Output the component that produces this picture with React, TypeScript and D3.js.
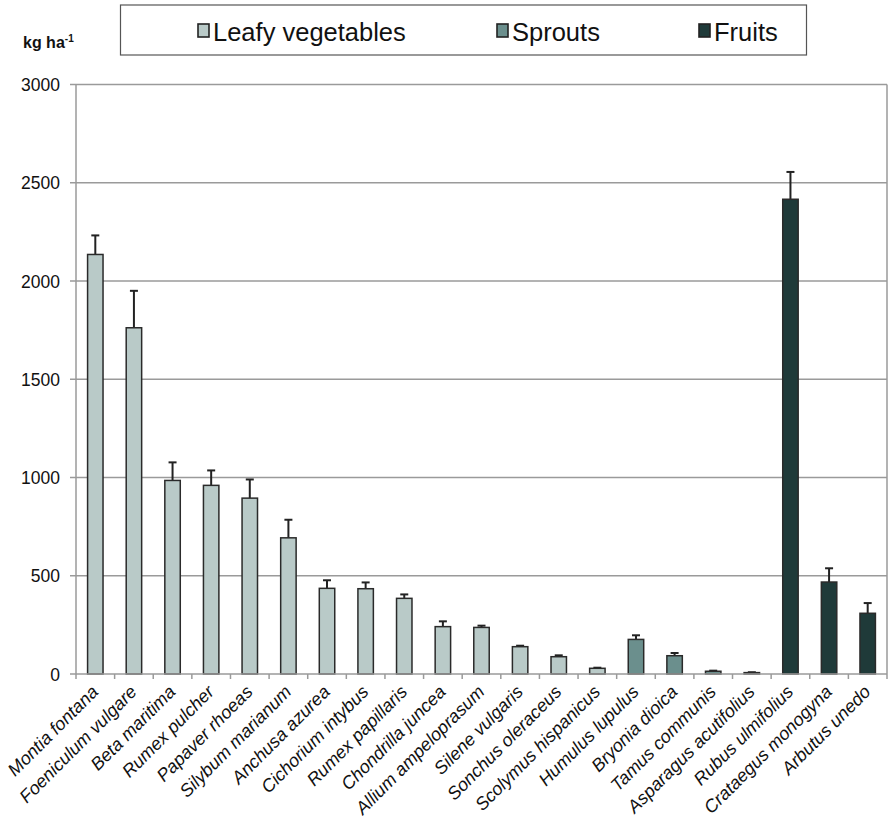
import React from "react";
import * as d3 from "d3";

const categories = [
  "Montia fontana", "Foeniculum vulgare", "Beta maritima", "Rumex pulcher", "Papaver rhoeas",
  "Silybum marianum", "Anchusa azurea", "Cichorium intybus", "Rumex papillaris", "Chondrilla juncea",
  "Allium ampeloprasum", "Silene vulgaris", "Sonchus oleraceus", "Scolymus hispanicus",
  "Humulus lupulus", "Bryonia dioica", "Tamus communis", "Asparagus acutifolius",
  "Rubus ulmifolius", "Crataegus monogyna", "Arbutus unedo",
];
const values = [2135, 1762, 985, 960, 895, 693, 436, 434, 385, 241, 237, 139, 88, 29, 176, 93, 14, 7, 2416, 468, 309];
const errors = [97, 188, 92, 76, 95, 92, 41, 32, 20, 27, 9, 5, 7, 3, 21, 14, 3, 2, 139, 70, 52];
const groups = ["Leafy vegetables", "Leafy vegetables", "Leafy vegetables", "Leafy vegetables", "Leafy vegetables",
  "Leafy vegetables", "Leafy vegetables", "Leafy vegetables", "Leafy vegetables", "Leafy vegetables",
  "Leafy vegetables", "Leafy vegetables", "Leafy vegetables", "Leafy vegetables",
  "Sprouts", "Sprouts", "Sprouts", "Sprouts", "Fruits", "Fruits", "Fruits"];
const seriesNames = ["Leafy vegetables", "Sprouts", "Fruits"];
const seriesColors = ["#b9cac8", "#6b8f8d", "#1f3a39"];
const yTicks = [0, 500, 1000, 1500, 2000, 2500, 3000];

const W = 889, H = 822;
const left = 76, right = 887, top = 84.5, bottom = 674;
const FONT = "'Liberation Sans', Arial, Helvetica, sans-serif";

export default function App() {
  const x = d3.scaleBand<string>().domain(categories).range([left, right]).paddingInner(0.6).paddingOuter(0.3);
  const xb = d3.scaleBand<string>().domain(categories).range([left, right]);
  const y = d3.scaleLinear().domain([0, 3000]).range([bottom, top]);
  const color = d3.scaleOrdinal<string, string>().domain(seriesNames).range(seriesColors);
  const legendX = [198, 497, 699];

  return (
    <svg width={W} height={H} style={{ position: "absolute", left: 0, top: 0, background: "#fff" }} fontFamily={FONT}>
      {/* legend */}
      <rect x={120.5} y={5} width={686} height={50} fill="#fff" stroke="#555" strokeWidth={1.2} />
      {seriesNames.map((s, i) => (
        <g key={s}>
          <rect x={legendX[i]} y={24} width={11} height={13} fill={color(s)} stroke="#222" strokeWidth={1.6} />
          <text x={legendX[i] + 15} y={41} fontSize={25.5} fill="#111">{s}</text>
        </g>
      ))}
      <text x={23} y={48} fontSize={16} fontWeight="bold" fill="#111">
        kg ha<tspan dy={-6} fontSize={10}>-1</tspan>
      </text>
      {/* gridlines */}
      {yTicks.map((t) => (
        <g key={t}>
          {t > 0 && <line x1={left} x2={right} y1={y(t)} y2={y(t)} stroke="#9a9a9a" strokeWidth={1.5} />}
          <line x1={left - 6} x2={left} y1={y(t)} y2={y(t)} stroke="#9a9a9a" strokeWidth={1.5} />
          <text x={left - 16} y={y(t) + 6.5} fontSize={17.5} textAnchor="end" fill="#111">{t}</text>
        </g>
      ))}
      <line x1={right} x2={right} y1={top} y2={bottom} stroke="#9a9a9a" strokeWidth={1.5} />
      <line x1={left} x2={left} y1={top} y2={bottom} stroke="#9a9a9a" strokeWidth={1.5} />
      {/* x ticks */}
      {categories.map((c) => (
        <line key={c} x1={xb(c)!} x2={xb(c)!} y1={bottom} y2={bottom + 5} stroke="#9a9a9a" strokeWidth={1.5} />
      ))}
      <line x1={right} x2={right} y1={bottom} y2={bottom + 5} stroke="#9a9a9a" strokeWidth={1.5} />
      {/* bars */}
      {categories.map((c, i) => {
        const bx = x(c)!;
        const bw = x.bandwidth();
        const cx = bx + bw / 2;
        const yt = y(values[i]);
        const ye = y(values[i] + errors[i]);
        return (
          <g key={c}>
            <line x1={cx} x2={cx} y1={yt} y2={ye} stroke="#222" strokeWidth={2} />
            <line x1={cx - 4} x2={cx + 4} y1={ye} y2={ye} stroke="#222" strokeWidth={2} />
            <rect x={bx} y={yt} width={bw} height={bottom - yt} fill={color(groups[i])} stroke="#2a2a2a" strokeWidth={1.5} />
          </g>
        );
      })}
      <line x1={left} x2={right} y1={bottom} y2={bottom} stroke="#9a9a9a" strokeWidth={1.5} />
      {/* x labels */}
      {categories.map((c) => {
        const cx = xb(c)! + xb.bandwidth() / 2 + 4;
        const ly = bottom + 19;
        return (
          <text key={c} transform={`translate(${cx},${ly}) rotate(-45)`} textAnchor="end" fontSize={18} fontStyle="italic" fill="#111">
            {c}
          </text>
        );
      })}
    </svg>
  );
}
